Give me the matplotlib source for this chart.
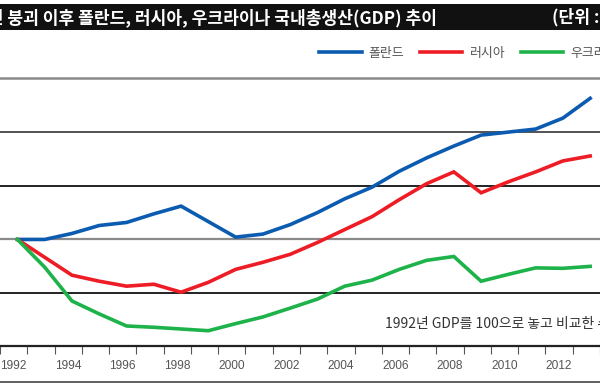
import numpy as np
import matplotlib
matplotlib.use("Agg")
import matplotlib.pyplot as plt
from matplotlib.lines import Line2D
from matplotlib.patches import Rectangle

plt.rcParams['font.family'] = ['Noto Sans CJK KR', 'DejaVu Sans']

# 1992 = 100
years = list(range(1992, 2014))
poland = [100, 100, 102.8, 106.5, 107.9, 111.9, 115.5, 108.3, 101.1, 102.5, 106.9,
          112.5, 118.9, 124.3, 131.7, 137.9, 143.4, 148.5, 149.9, 151.3, 156.4, 165.6]
russia = [100, 91.7, 83.4, 80.6, 78.3, 79.2, 75.5, 80.1, 86.1, 89.4, 93.1,
          98.6, 104.6, 110.6, 118.5, 125.9, 131.4, 121.7, 126.8, 131.4, 136.5, 138.8]
ukraine = [100, 87.1, 71.4, 65.4, 59.8, 59.2, 58.4, 57.6, 60.9, 64.0, 68.1,
           72.3, 78.3, 81.1, 86.1, 90.3, 92.1, 80.6, 83.8, 86.8, 86.6, 87.5]
names = ['폴란드', '러시아', '우크라이나']
colors = ['#0b5cb0', '#ee1c25', '#1db34a']
tick_years = list(range(1992, 2014, 2))

W, H = 600, 390
fig = plt.figure(figsize=(6, 3.9), dpi=100)
ax = fig.add_axes([0, 44 / H, 1, (346 - 77) / H])

for vals, c, n in zip([poland, russia, ukraine], colors, names):
    ax.plot(years, vals, color=c, lw=2.6, label=n, solid_joinstyle='miter', zorder=3)

# grid lines (different shades like the print version)
grid_style = {75: ('#111111', 1.3), 100: ('#8a8a8a', 1.6), 125: ('#111111', 1.3),
              150: ('#444444', 1.3), 175: ('#8a8a8a', 1.8)}
for v, (gc, gw) in grid_style.items():
    ax.axhline(v, color=gc, lw=gw, zorder=1)

ax.set_xlim(1992 - 10 / 27.7, 1992 + 590 / 27.7)
ax.set_ylim(50.5, 175.5)
for s in ['left', 'right', 'top']:
    ax.spines[s].set_visible(False)
ax.spines['bottom'].set_color('#222222')
ax.spines['bottom'].set_linewidth(1.6)
ax.set_yticks([])

ax.set_xticks([y - 0.14 for y in tick_years])
ax.set_xticklabels([str(y) for y in tick_years], family='Liberation Sans',
                   fontsize=8.6, color='#555555')
ax.tick_params(axis='x', which='major', length=0, pad=10)
ax.set_xticks([y + 0.36 for y in range(1991, 2014)], minor=True)
ax.tick_params(axis='x', which='minor', length=6, width=0.8, color='#555555', direction='out')

leg = ax.legend(loc='center left', bbox_to_anchor=(319 / W, 1 - 53 / H),
                bbox_transform=fig.transFigure, ncol=3, frameon=False,
                handlelength=3.3, handletextpad=0.55, columnspacing=1.2,
                fontsize=9.3, borderpad=0, borderaxespad=0)
for t in leg.get_texts():
    t.set_color('#555555')

ax.text(385 / W, 1 - 324 / H, '1992년 GDP를 100으로 놓고 비교한 수치', transform=fig.transFigure,
        fontsize=10, color='#333333', va='center', ha='left')

# title bar
fig.add_artist(Rectangle((0, 1 - 30 / H), 1, 26 / H, transform=fig.transFigure,
                         facecolor='#111111', edgecolor='none'))
fig.text(-28 / W, 1 - 17.5 / H, '소련 붕괴 이후 폴란드, 러시아, 우크라이나 국내총생산(GDP) 추이',
         color='white', fontsize=12.3, fontweight='bold', va='center', ha='left')
fig.text(552 / W, 1 - 17.5 / H, '(단위 : %)', color='white', fontsize=12.3,
         fontweight='bold', va='center', ha='left')

fig.add_artist(Line2D([0, 1], [1 - 382 / H, 1 - 382 / H], transform=fig.transFigure,
                      color='#444444', lw=1.2))

fig.savefig('out.png', dpi=100)
